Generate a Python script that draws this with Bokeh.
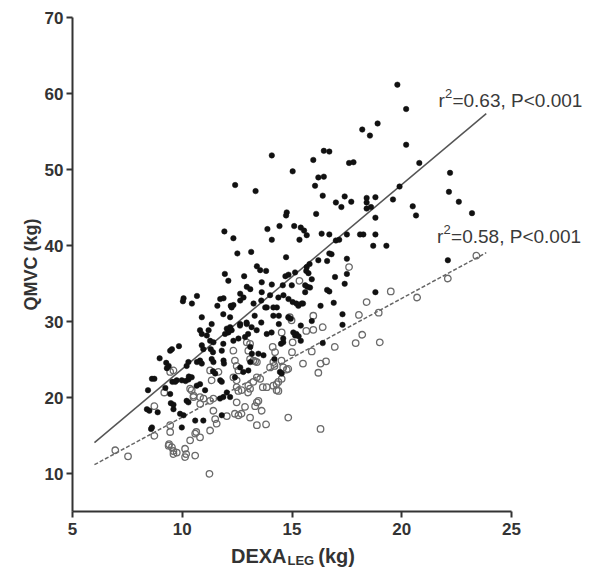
from bokeh.plotting import figure
from bokeh.models import Range1d, FixedTicker, Label
from bokeh.embed import file_html
from bokeh.resources import INLINE

# ---------------- data ----------------
x_ticks = [5, 10, 15, 20, 25]
y_ticks = [10, 20, 30, 40, 50, 60, 70]
x_axis_extent = (5, 25)
y_axis_extent = (5.1, 70)

# filled dots (DEXA_LEG kg, QMVC kg)
filled_points = [
    (19.8, 61.2), (20.2, 58.0), (18.9, 56.1), (18.2, 55.3), (18.55, 54.5), (20.2, 53.3), (17.6, 50.9),
    (17.8, 51.0), (20.8, 50.9), (19.9, 47.8), (22.2, 49.6), (22.15, 47.1), (22.6, 45.8), (23.2, 44.3),
    (20.5, 45.2), (20.65, 44.0), (19.6, 46.1), (17.4, 46.5), (17.7, 45.8), (17.25, 45.1), (18.4, 46.3),
    (18.4, 45.7), (18.8, 46.4), (18.4, 44.9), (18.6, 45.1), (18.8, 43.7), (17.5, 41.5), (18.1, 41.5),
    (18.25, 41.5), (18.8, 41.5), (16.45, 52.5), (16.7, 52.4), (15.97, 51.3), (16.2, 49.0), (16.45, 49.1),
    (16.05, 47.9), (16.4, 46.6), (17.0, 45.7), (16.1, 44.2), (15.4, 42.4), (15.55, 42.0), (16.35, 41.6),
    (16.7, 41.5), (17.0, 40.7), (17.15, 40.8), (18.7, 40.0), (19.3, 40.0), (16.2, 38.1), (16.8, 38.9),
    (17.5, 38.3), (15.8, 37.6), (15.65, 36.7), (17.5, 36.3), (15.9, 35.6), (17.4, 35.0), (15.7, 34.6),
    (16.6, 34.2), (16.7, 34.0), (18.8, 33.9), (22.1, 38.1), (15.6, 33.9), (16.9, 32.5), (15.5, 32.4),
    (16.3, 32.1), (17.3, 31.0), (17.3, 29.6), (15.9, 30.1), (15.4, 29.5), (15.4, 27.5), (16.4, 27.2),
    (15.6, 34.8), (16.7, 39.0), (16.6, 38.0), (15.67, 37.2),
    (14.08, 51.9), (15.03, 49.8), (13.34, 47.2), (12.41, 48.0), (14.76, 44.4), (14.73, 44.0), (13.88, 42.2),
    (14.43, 42.6), (15.1, 42.6), (15.67, 41.4), (15.34, 40.8), (14.08, 40.8), (13.14, 39.2), (14.73, 38.5),
    (13.4, 37.3), (13.55, 36.8), (13.82, 36.7), (12.82, 36.0), (14.7, 36.0), (14.84, 36.2), (15.14, 36.5),
    (15.75, 36.4), (16.96, 35.9), (13.62, 35.2), (14.08, 34.9), (14.58, 34.8), (14.99, 34.8), (12.94, 34.6),
    (13.1, 34.3), (15.82, 34.5), (12.64, 33.7), (12.79, 33.2), (13.62, 33.9), (14.0, 33.5), (14.61, 33.5),
    (14.84, 33.0), (15.03, 32.6), (13.25, 32.4), (13.78, 31.9), (14.31, 31.9), (15.29, 32.1), (15.44, 32.4),
    (15.2, 32.4), (13.6, 32.8), (14.15, 31.9),
    (11.92, 41.9), (12.33, 41.0), (12.51, 39.0), (11.94, 36.3), (12.1, 35.4), (10.03, 32.7), (10.06, 33.1),
    (10.44, 32.4), (10.67, 33.4), (11.73, 33.0), (11.88, 33.1), (11.6, 32.1), (12.21, 32.1), (12.33, 32.2),
    (12.64, 32.8), (12.25, 31.9),
    (13.3, 30.8), (13.6, 29.9), (14.4, 30.8), (14.4, 29.7), (14.83, 30.6), (14.94, 30.4), (15.06, 28.6),
    (15.2, 28.4), (15.14, 28.2), (15.3, 28.1), (14.07, 28.6), (14.6, 27.3), (14.5, 27.1), (13.1, 26.7),
    (13.17, 25.8), (13.47, 25.8), (13.7, 25.6), (14.2, 25.1), (13.1, 24.7), (14.45, 23.4), (14.53, 23.2),
    (12.64, 29.7), (12.94, 29.7), (13.0, 28.4), (13.85, 28.4), (14.15, 30.8), (13.85, 31.9), (14.38, 33.2),
    (14.6, 27.8),
    (10.89, 30.6), (11.34, 29.7), (11.87, 31.0), (10.81, 28.9), (10.89, 28.4), (12.03, 29.1), (12.18, 29.3),
    (12.1, 28.6), (11.95, 28.4), (12.25, 28.9), (12.63, 29.5), (12.93, 29.9), (13.16, 29.3), (13.39, 28.9),
    (11.27, 27.5), (11.42, 27.3), (10.89, 26.9), (10.96, 26.4), (11.87, 27.1), (12.33, 27.5), (12.56, 27.8),
    (12.86, 28.0), (11.12, 28.2), (11.2, 28.9), (12.18, 30.6), (11.3, 26.4), (11.4, 26.0), (11.8, 26.2),
    (9.85, 26.8), (9.53, 26.4), (10.28, 24.7), (10.2, 24.2), (10.81, 24.9), (10.89, 24.5), (11.34, 25.1),
    (11.42, 24.7), (10.67, 24.7), (11.88, 24.9), (11.9, 24.5), (11.4, 23.5), (11.5, 23.2), (11.73, 22.3),
    (11.8, 22.1), (12.64, 24.0),
    (9.55, 22.1), (9.75, 22.3), (9.98, 22.3), (10.15, 22.2), (10.28, 22.4), (10.43, 22.7), (10.3, 22.8),
    (10.66, 21.6), (10.81, 21.8), (11.04, 21.0), (12.4, 22.7), (12.78, 23.4), (13.01, 23.6), (10.2, 19.6),
    (10.28, 19.4), (11.72, 19.9), (11.87, 20.1), (12.03, 20.7), (12.18, 20.1), (9.6, 18.5), (9.9, 17.9),
    (10.06, 17.7), (10.59, 17.0), (10.96, 17.0), (11.8, 17.7), (9.98, 16.1),
    (8.44, 21.0), (8.39, 18.5), (8.5, 18.3), (8.62, 22.5), (8.73, 22.5), (8.62, 16.1), (8.58, 15.9),
    (8.97, 25.2), (8.88, 18.1), (9.27, 24.6), (9.38, 24.2), (9.3, 23.9), (9.45, 26.2), (9.45, 20.5),
    (9.48, 19.3), (9.6, 19.1), (9.23, 21.3), (9.68, 22.1),
]

# open circles (DEXA_LEG kg, QMVC kg)
open_points = [
    (17.6, 37.2), (22.1, 35.7), (23.4, 38.7), (19.5, 34.0), (20.7, 33.2), (18.4, 32.6), (18.05, 30.9),
    (18.95, 31.2), (18.2, 28.3), (17.9, 27.2), (19.0, 27.3), (16.95, 26.7), (15.97, 30.8), (15.65, 28.8),
    (15.97, 28.95), (16.4, 29.3), (15.9, 26.1), (15.5, 24.5), (16.3, 24.5), (16.55, 24.8), (16.2, 23.3),
    (16.3, 15.9), (15.34, 35.4),
    (14.98, 30.2), (14.53, 28.6), (14.12, 26.7), (15.03, 27.3), (13.24, 24.9), (13.4, 24.7), (14.15, 24.7),
    (14.76, 23.7), (14.53, 22.5), (14.0, 24.0), (14.2, 24.2), (13.4, 22.7), (13.55, 22.5), (13.24, 22.1),
    (13.67, 21.4), (14.15, 21.6), (14.3, 21.0), (14.38, 22.1), (13.09, 21.2), (13.47, 19.6), (13.32, 18.9),
    (13.62, 18.3), (13.09, 17.4), (14.83, 17.4), (13.4, 16.4),
    (12.33, 26.2), (13.09, 27.1), (13.01, 26.2), (13.09, 25.1), (12.4, 24.9), (12.48, 24.2), (12.56, 23.6),
    (11.27, 23.6), (11.34, 22.3), (11.65, 23.4), (9.45, 23.4), (9.6, 23.6), (10.43, 21.0), (10.51, 20.1),
    (10.81, 20.1), (11.27, 19.6), (12.71, 21.0), (13.01, 21.6), (12.48, 19.4), (12.86, 18.8), (11.42, 18.3),
    (11.5, 17.2), (11.57, 16.6), (11.27, 15.7), (9.45, 16.4), (9.45, 15.5), (10.36, 14.4), (10.59, 15.3),
    (10.81, 14.8), (10.13, 13.3), (10.13, 12.2), (10.59, 12.4), (9.53, 13.5), (9.6, 12.6), (9.75, 12.8),
    (11.24, 10.0),
    (6.95, 13.1), (7.53, 12.3), (8.73, 18.9), (8.73, 15.0), (9.18, 20.7), (9.4, 13.9), (12.03, 17.6),
    (12.4, 17.9), (12.56, 17.7), (12.7, 17.9), (12.33, 22.7), (12.48, 22.3), (12.48, 21.4), (12.56, 20.9),
    (12.94, 27.3), (13.32, 24.8), (13.0, 20.7), (13.4, 19.4), (13.82, 16.5), (13.85, 21.4), (14.23, 26.0),
    (14.3, 21.8), (14.38, 20.9), (14.52, 24.9), (14.6, 24.0), (14.83, 23.8), (15.0, 26.0), (14.9, 30.6),
    (11.42, 19.9), (10.82, 19.2), (10.97, 19.9), (10.36, 21.2), (10.52, 20.3), (10.64, 15.5), (10.18, 12.6),
    (9.38, 13.7), (9.6, 13.0),
]

# regression lines (DEXA range and fitted QMVC)
fit_x = [6.0, 23.85]
fit_filled = [14.1, 57.4]
fit_open = [11.2, 39.1]

stats_filled = ("r", "2", "=0.63, P<0.001")
stats_open = ("r", "2", "=0.58, P<0.001")
stats_filled_pos = (21.67, 59.1)
stats_open_pos = (21.61, 41.2)

x_title_parts = ("DEXA", "LEG", "(kg)")
x_title_pos = (14.75, 16.2, -0.75)

dexa_f = [pt[0] for pt in filled_points]
qmvc_f = [pt[1] for pt in filled_points]
dexa_o = [pt[0] for pt in open_points]
qmvc_o = [pt[1] for pt in open_points]

FONT = "Liberation Sans"
DARK = "#333333"

# The frame fills the whole canvas; both axes are pinned at the data extent
# (fixed_location + bounds) so that every text sits inside the frame.
p = figure(width=592, height=568, output_backend="svg", toolbar_location=None,
           x_range=Range1d(1.72, 28.69), y_range=Range1d(-2.46, 72.28),
           min_border_left=0, min_border_right=0, min_border_top=0, min_border_bottom=0)
p.outline_line_color = None
p.grid.visible = False
p.background_fill_color = "white"
p.border_fill_color = "white"

p.line(fit_x, fit_filled, line_color="#555555", line_width=1.5)
p.line(fit_x, fit_open, line_color="#666666", line_width=1.5, line_dash="4 2")

p.scatter(dexa_o, qmvc_o, marker="circle", size=6.5, fill_color=None,
          line_color="#6a6a6a", line_width=1.3)
p.scatter(dexa_f, qmvc_f, marker="circle", size=5.5, fill_color="#111111",
          line_color="#111111", line_width=0.5)

p.xaxis.ticker = FixedTicker(ticks=x_ticks)
p.yaxis.ticker = FixedTicker(ticks=y_ticks)
p.xaxis.bounds = x_axis_extent
p.yaxis.bounds = y_axis_extent
p.xaxis.fixed_location = y_axis_extent[0]
p.yaxis.fixed_location = x_axis_extent[0]
for ax in (p.xaxis[0], p.yaxis[0]):
    ax.axis_line_width = 2
    ax.axis_line_color = DARK
    ax.major_tick_line_width = 2
    ax.major_tick_line_color = DARK
    ax.major_tick_out = 6
    ax.major_tick_in = 0
    ax.minor_tick_line_color = None
    ax.major_label_text_font = FONT
    ax.major_label_text_font_style = "bold"
    ax.major_label_text_font_size = "17px"
    ax.major_label_text_color = DARK
p.xaxis.major_label_standoff = 6
p.yaxis.major_label_standoff = 3

p.yaxis.axis_label = "QMVC (kg)"
p.yaxis.axis_label_text_font = FONT
p.yaxis.axis_label_text_font_style = "bold"
p.yaxis.axis_label_text_font_size = "18px"
p.yaxis.axis_label_text_color = DARK
p.yaxis.axis_label_standoff = 1


def stats_label(parts, pos):
    x, y = pos
    p.add_layout(Label(x=x, y=y, text=parts[0], text_font=FONT, text_font_size="19px",
                       text_color="#3a3a3a", text_baseline="middle"))
    p.add_layout(Label(x=x, y=y, x_offset=6.5, y_offset=7, text=parts[1], text_font=FONT,
                       text_font_size="13px", text_color="#3a3a3a", text_baseline="middle"))
    p.add_layout(Label(x=x, y=y, x_offset=14, text=parts[2], text_font=FONT, text_font_size="19px",
                       text_color="#3a3a3a", text_baseline="middle"))


stats_label(stats_filled, stats_filled_pos)
stats_label(stats_open, stats_open_pos)

# x axis title with subscript
xa, xb, ty = x_title_pos
p.add_layout(Label(x=xa, y=ty, text=x_title_parts[0], text_align="right", text_font=FONT,
                   text_font_size="20px", text_font_style="bold", text_color=DARK,
                   text_baseline="middle"))
p.add_layout(Label(x=xa, y=ty, x_offset=1, y_offset=-5, text=x_title_parts[1], text_align="left",
                   text_font=FONT, text_font_size="13px", text_font_style="bold", text_color=DARK,
                   text_baseline="middle"))
p.add_layout(Label(x=xb, y=ty, text=x_title_parts[2], text_align="left", text_font=FONT,
                   text_font_size="20px", text_font_style="bold", text_color=DARK,
                   text_baseline="middle"))

open("out.html", "w").write(file_html(p, INLINE))
